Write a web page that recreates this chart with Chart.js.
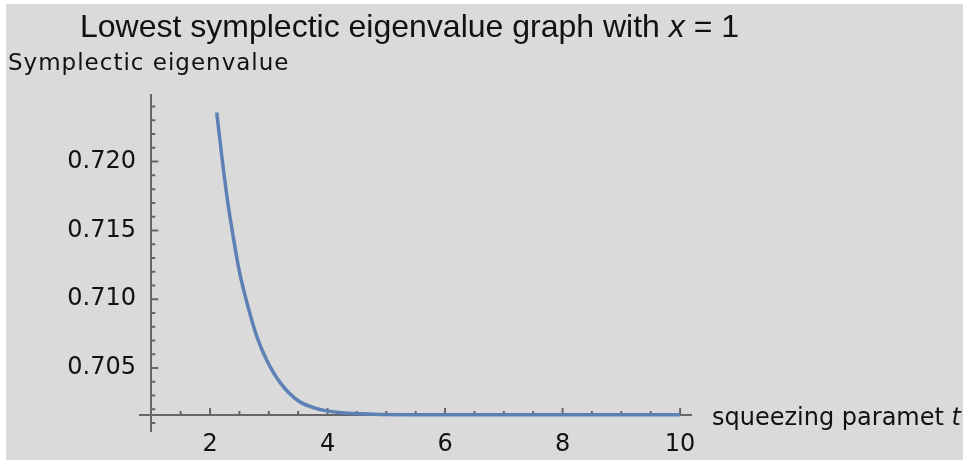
<!DOCTYPE html>
<html>
<head>
<meta charset="utf-8">
<script src="https://cdn.jsdelivr.net/npm/chart.js@4"></script>
<style>
html, body { margin: 0; background: #fff; }
#box { position: absolute; left: 6px; top: 4px; width: 957px; height: 456px; background: #dadada; }
</style>
</head>
<body>
<div id="box"><canvas id="plot"></canvas></div>
<script>
// squeezing parameter t and lowest symplectic eigenvalue
var tValues = [2.114, 2.2, 2.3, 2.4, 2.5, 2.65, 2.8, 2.97, 3.2, 3.5, 3.8, 4.2, 4.8, 5.5, 6.5, 8, 10];
var eigenValues = [0.72357, 0.7204, 0.7171, 0.7144, 0.7120, 0.7094, 0.70725, 0.70553, 0.7039, 0.70262, 0.70207, 0.70177, 0.70164, 0.70161, 0.7016, 0.7016, 0.7016];

var xMajor = [2, 4, 6, 8, 10];
var xLabels = ['2', '4', '6', '8', '10'];
var xMinor = [1.5, 2.5, 3, 3.5, 4.5, 5, 5.5, 6.5, 7, 7.5, 8.5, 9, 9.5];
var yMajor = [0.705, 0.71, 0.715, 0.72];
var yLabels = ['0.705', '0.710', '0.715', '0.720'];
var yMinor = [0.701, 0.702, 0.703, 0.704, 0.706, 0.707, 0.708, 0.709, 0.711, 0.712, 0.713, 0.714,
              0.716, 0.717, 0.718, 0.719, 0.721, 0.722, 0.723, 0.724];

var axisColor = '#666666';
var crossY = 0.70158;

var decor = {
  id: 'decor',
  beforeDatasetsDraw: function(chart) {
    var ctx = chart.ctx, xs = chart.scales.x, ys = chart.scales.y;
    var ax = xs.getPixelForValue(1), ay = ys.getPixelForValue(crossY);
    ctx.save();
    ctx.strokeStyle = axisColor;
    ctx.lineWidth = 2;
    ctx.beginPath();
    xMajor.forEach(function(v) { var p = xs.getPixelForValue(v); ctx.moveTo(p, ay); ctx.lineTo(p, ay - 7); });
    xMinor.forEach(function(v) { var p = xs.getPixelForValue(v); ctx.moveTo(p, ay); ctx.lineTo(p, ay - 4); });
    yMajor.forEach(function(v) { var p = ys.getPixelForValue(v); ctx.moveTo(ax, p); ctx.lineTo(ax + 7, p); });
    yMinor.forEach(function(v) { var p = ys.getPixelForValue(v); ctx.moveTo(ax, p); ctx.lineTo(ax + 4, p); });
    ctx.stroke();
    ctx.restore();
  },
  afterDraw: function(chart) {
    var ctx = chart.ctx;
    ctx.save();
    ctx.fillStyle = '#111';
    ctx.textBaseline = 'alphabetic';
    ctx.textAlign = 'left';
    // title
    var x = 74, part = 'Lowest symplectic eigenvalue graph with ';
    ctx.font = '32px "Liberation Sans", Arial, sans-serif';
    ctx.fillText(part, x, 33); x += ctx.measureText(part).width;
    ctx.font = 'italic 32px "Liberation Sans", Arial, sans-serif';
    ctx.fillText('x', x, 33); x += ctx.measureText('x').width;
    ctx.font = '32px "Liberation Sans", Arial, sans-serif';
    ctx.fillText(' = 1', x, 33);
    // y label
    ctx.font = '23px "DejaVu Sans", sans-serif';
    ctx.letterSpacing = '1px';
    ctx.fillText('Symplectic eigenvalue', 2, 66);
    ctx.letterSpacing = '0px';
    // x label
    x = 706; part = 'squeezing paramet ';
    ctx.font = '24px "DejaVu Sans", sans-serif';
    ctx.fillText(part, x, 421); x += ctx.measureText(part).width;
    ctx.font = 'italic 24px "DejaVu Sans", sans-serif';
    ctx.fillText('t', x, 421);
    ctx.restore();
  }
};

var tickFont = { family: '"DejaVu Sans", sans-serif', size: 24 };

new Chart(document.getElementById('plot'), {
  type: 'line',
  data: {
    datasets: [{
      data: tValues.map(function(t, i) { return { x: t, y: eigenValues[i] }; }),
      borderColor: '#5e81b5',
      borderWidth: 3.5,
      pointRadius: 0,
      fill: false,
      cubicInterpolationMode: 'monotone'
    }]
  },
  options: {
    responsive: true,
    maintainAspectRatio: false,
    animation: false,
    layout: { padding: { left: 134, top: 91, right: 272, bottom: 25 } },
    plugins: { legend: { display: false }, tooltip: { enabled: false } },
    scales: {
      x: {
        type: 'linear',
        min: 0.808,
        max: 10.186,
        position: { y: crossY },
        afterFit: function(s) { s.height = 0; },
        afterBuildTicks: function(s) { s.ticks = xMajor.map(function(v) { return { value: v }; }); },
        grid: { display: false, drawTicks: false },
        border: { display: true, color: axisColor, width: 2 },
        ticks: {
          autoSkip: false, maxRotation: 0, padding: 15, color: '#111', font: tickFont,
          callback: function(v, i) { return xLabels[i]; }
        }
      },
      y: {
        type: 'linear',
        min: 0.70038,
        max: 0.72484,
        position: { x: 1 },
        afterFit: function(s) { s.width = 0; },
        afterBuildTicks: function(s) { s.ticks = yMajor.map(function(v) { return { value: v }; }); },
        grid: { display: false, drawTicks: false },
        border: { display: true, color: axisColor, width: 2 },
        ticks: {
          autoSkip: false, padding: 14, color: '#111', font: tickFont,
          callback: function(v, i) { return yLabels[i] + '\u2007'; }
        }
      }
    }
  },
  plugins: [decor]
});
</script>
</body>
</html>
